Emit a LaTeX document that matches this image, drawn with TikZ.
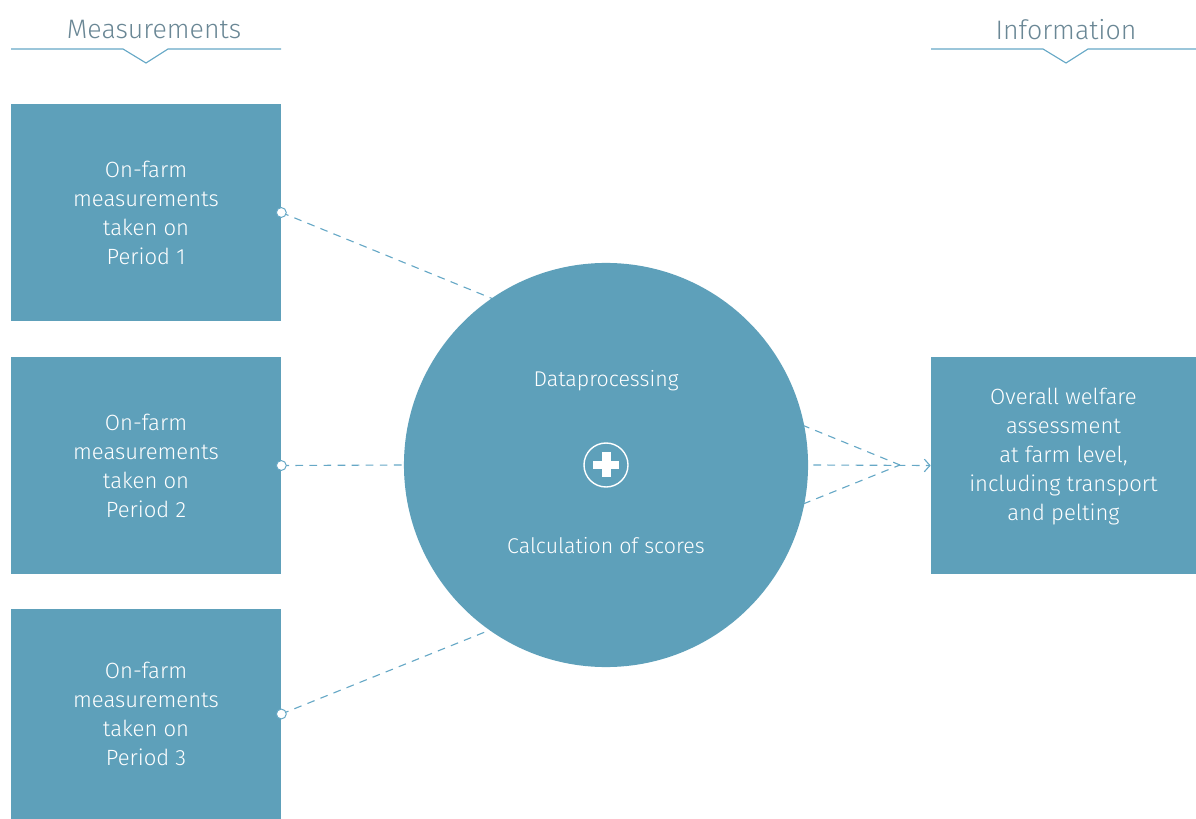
\documentclass[tikz,border=0pt]{standalone}
\usepackage{fontspec}
\setmainfont{Fira Sans Light}
\usetikzlibrary{arrows.meta}
\definecolor{boxblue}{HTML}{5EA0BA}
\definecolor{lineblue}{HTML}{66A8C6}
\definecolor{headgray}{HTML}{6A8795}
\tikzset{
  measbox/.style={fill=boxblue, text=white, align=center, inner sep=0pt,
    font=\fontsize{15.7}{20.6}\selectfont, minimum width=6.75cm, minimum height=5.425cm},
  port/.style={circle, draw=lineblue, fill=white, inner sep=0pt, minimum size=7pt, line width=0.7pt},
  link/.style={draw=lineblue, line width=0.8pt, dash pattern=on 5.5pt off 4.5pt},
  header/.style={text=headgray, font=\fontsize{19}{23}\selectfont},
  circtext/.style={text=white, font=\fontsize{15.2}{18}\selectfont},
}
\begin{document}
\begin{tikzpicture}[x=0.025cm,y=-0.025cm]
\useasboundingbox (0,0) rectangle (1196,819);
%headers
\node[header] (meas) at (154,30) {Measurements};
\node[header] (info) at (1066,30) {Information};
\draw[lineblue,line width=0.8pt] (11,49) -- (123,49) -- (146,63) -- (168,49) -- (281,49);
\draw[lineblue,line width=0.8pt] (931,49) -- (1043,49) -- (1066,63) -- (1088,49) -- (1196,49);
%boxes
\node[measbox] (per1) at (146,212.5) {On-farm\\measurements\\taken on\\Period 1};
\node[measbox] (per2) at (146,465.5) {On-farm\\measurements\\taken on\\Period 2};
\node[measbox,minimum height=5.25cm] (per3) at (146,714) {On-farm\\measurements\\taken on\\Period 3};
\node[measbox,minimum width=6.625cm] (overall) at (1063.5,465.5)
  {Overall welfare\\assessment\\at farm level,\\including transport\\and pelting\\[-5pt]};
%dashed links
\coordinate (meet) at (900,465);
\draw[link] (per1.east) -- (meet);
\draw[link] (per3.east) -- (meet);
%circle
\node[circle,fill=boxblue,minimum size=10.1cm,inner sep=0pt] (proc) at (606,465) {};
\node[circtext] (dp) at (606,381) {Dataprocessing};
\node[circtext] (calc) at (606,546) {Calculation of scores};
\node[circle,draw=white,line width=1pt,minimum size=1.1cm,inner sep=0pt] (plus) at (606,465) {};
\fill[white] (602,452) rectangle (610.5,477);
\fill[white] (593,461) rectangle (619,469);
\draw[link] (per2.east) -- (proc.west);
\draw[link,-{Straight Barb[length=4pt,width=9pt]}] (proc.east) ++(5,0) -- (overall.west);
%ports
\node[port] (o1) at (per1.east) {};
\node[port] (o2) at (per2.east) {};
\node[port] (o3) at (per3.east) {};
\end{tikzpicture}
\end{document}
